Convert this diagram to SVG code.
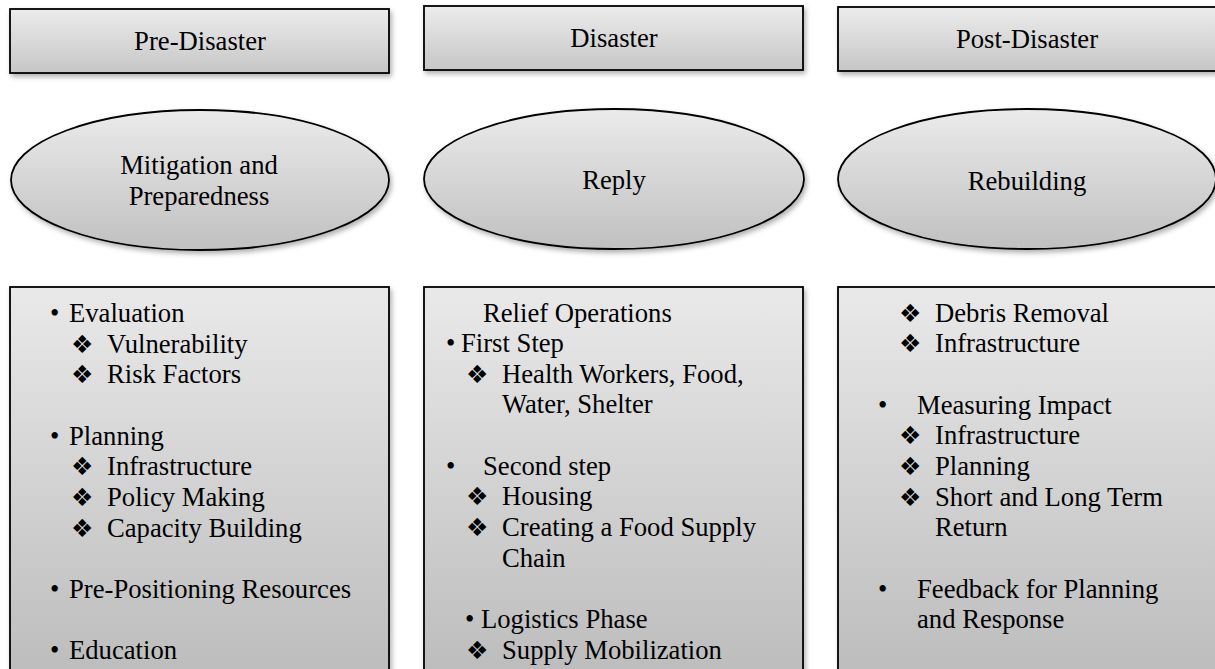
<svg xmlns="http://www.w3.org/2000/svg" width="1215" height="669" viewBox="0 0 1215 669">
  <defs>
    <linearGradient id="gTop" x1="0" y1="0" x2="0" y2="1">
      <stop offset="0" stop-color="#ececec"/>
      <stop offset="1" stop-color="#c6c6c6"/>
    </linearGradient>
    <linearGradient id="gEll" x1="0" y1="0" x2="0" y2="1">
      <stop offset="0" stop-color="#ebebeb"/>
      <stop offset="1" stop-color="#c0c0c0"/>
    </linearGradient>
    <linearGradient id="gBox" gradientUnits="userSpaceOnUse" x1="0" y1="287" x2="0" y2="669">
      <stop offset="0" stop-color="#e9e9e9"/>
      <stop offset="1" stop-color="#bdbdbd"/>
    </linearGradient>
    <filter id="sh" x="-10%" y="-10%" width="125%" height="135%">
      <feDropShadow dx="2" dy="3" stdDeviation="2.5" flood-color="#000" flood-opacity="0.3"/>
    </filter>
  </defs>
  <style>
    .shape { stroke: #000; stroke-width: 1.8; filter: url(#sh); }
    .t { font-family: "Liberation Serif", "Times New Roman", serif; font-size: 26.67px; fill: #000; }
    .c { text-anchor: middle; }
    .d { font-family: "DejaVu Sans", sans-serif; font-size: 25px; fill: #000; }
  </style>
  <rect width="1215" height="669" fill="#fff"/>

  <g id="connectors"></g>

  <g id="pre-disaster">
    <rect class="shape" x="10" y="9" width="379" height="64" fill="url(#gTop)"/>
    <text class="t c" x="200" y="50">Pre-Disaster</text>
  </g>
  <g id="disaster">
    <rect class="shape" x="424" y="6" width="379" height="64" fill="url(#gTop)"/>
    <text class="t c" x="614" y="47">Disaster</text>
  </g>
  <g id="post-disaster">
    <rect class="shape" x="838" y="7" width="379" height="64" fill="url(#gTop)"/>
    <text class="t c" x="1027" y="48">Post-Disaster</text>
  </g>

  <g id="mitigation">
    <ellipse class="shape" cx="200" cy="180" rx="189" ry="70" fill="url(#gEll)"/>
    <text class="t c" x="199" y="174">Mitigation and</text>
    <text class="t c" x="199" y="205">Preparedness</text>
  </g>
  <g id="reply">
    <ellipse class="shape" cx="614" cy="179" rx="190" ry="70" fill="url(#gEll)"/>
    <text class="t c" x="614" y="189">Reply</text>
  </g>
  <g id="rebuilding">
    <ellipse class="shape" cx="1027" cy="179" rx="189" ry="70" fill="url(#gEll)"/>
    <text class="t c" x="1027" y="190">Rebuilding</text>
  </g>

  <g id="pre-list">
    <rect class="shape" x="10" y="287" width="379" height="400" fill="url(#gBox)"/>
    <text class="t" x="50" y="322">•</text><text class="t" x="69" y="322">Evaluation</text>
    <text class="d" x="71" y="353">❖</text><text class="t" x="107" y="353">Vulnerability</text>
    <text class="d" x="71" y="383">❖</text><text class="t" x="107" y="383">Risk Factors</text>
    <text class="t" x="50" y="445">•</text><text class="t" x="69" y="445">Planning</text>
    <text class="d" x="71" y="475">❖</text><text class="t" x="107" y="475">Infrastructure</text>
    <text class="d" x="71" y="506">❖</text><text class="t" x="107" y="506">Policy Making</text>
    <text class="d" x="71" y="537">❖</text><text class="t" x="107" y="537">Capacity Building</text>
    <text class="t" x="50" y="598">•</text><text class="t" x="69" y="598">Pre-Positioning Resources</text>
    <text class="t" x="50" y="659">•</text><text class="t" x="69" y="659">Education</text>
  </g>

  <g id="disaster-list">
    <rect class="shape" x="424" y="287" width="379" height="400" fill="url(#gBox)"/>
    <text class="t" x="483" y="322">Relief Operations</text>
    <text class="t" x="446" y="352">•</text><text class="t" x="461" y="352">First Step</text>
    <text class="d" x="466" y="383">❖</text><text class="t" x="502" y="383">Health Workers, Food,</text>
    <text class="t" x="502" y="413">Water, Shelter</text>
    <text class="t" x="446" y="475">•</text><text class="t" x="483" y="475">Second step</text>
    <text class="d" x="466" y="505">❖</text><text class="t" x="502" y="505">Housing</text>
    <text class="d" x="466" y="536">❖</text><text class="t" x="502" y="536">Creating a Food Supply</text>
    <text class="t" x="502" y="567">Chain</text>
    <text class="t" x="465" y="628">•</text><text class="t" x="481" y="628">Logistics Phase</text>
    <text class="d" x="466" y="659">❖</text><text class="t" x="502" y="659">Supply Mobilization</text>
  </g>

  <g id="post-list">
    <rect class="shape" x="838" y="287" width="379" height="400" fill="url(#gBox)"/>
    <text class="d" x="899" y="322">❖</text><text class="t" x="935" y="322">Debris Removal</text>
    <text class="d" x="899" y="352">❖</text><text class="t" x="935" y="352">Infrastructure</text>
    <text class="t" x="878" y="414">•</text><text class="t" x="917" y="414">Measuring Impact</text>
    <text class="d" x="899" y="444">❖</text><text class="t" x="935" y="444">Infrastructure</text>
    <text class="d" x="899" y="475">❖</text><text class="t" x="935" y="475">Planning</text>
    <text class="d" x="899" y="506">❖</text><text class="t" x="935" y="506">Short and Long Term</text>
    <text class="t" x="935" y="536">Return</text>
    <text class="t" x="878" y="598">•</text><text class="t" x="917" y="598">Feedback for Planning</text>
    <text class="t" x="917" y="628">and Response</text>
  </g>
</svg>
